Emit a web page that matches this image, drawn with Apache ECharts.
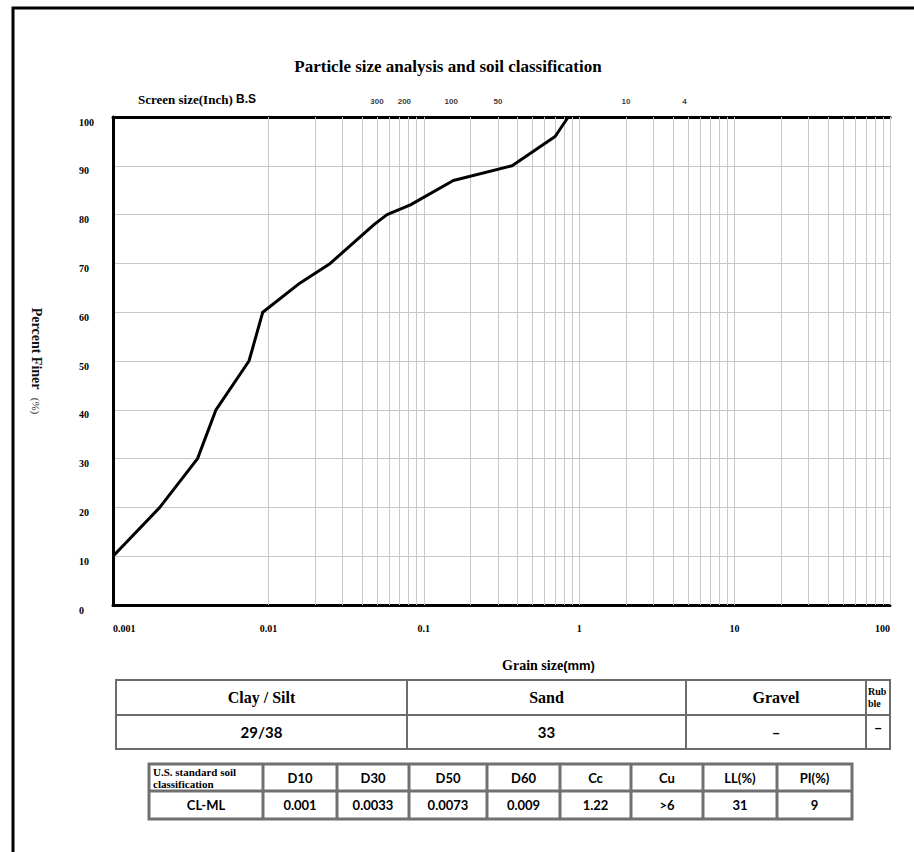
<!DOCTYPE html>
<html>
<head>
<meta charset="utf-8">
<script src="https://cdn.jsdelivr.net/npm/echarts@6.0.0/dist/echarts.min.js"></script>
<style>
html,body{margin:0;padding:0;background:#fff;}
#chart{width:914px;height:852px;}
</style>
</head>
<body>
<div id="chart"></div>
<script>
// ---- data ----
const grainSize = [0.001, 0.002, 0.0035, 0.0046, 0.0075, 0.0092, 0.016, 0.025, 0.048, 0.058, 0.082, 0.155, 0.37, 0.7, 0.85];
const percentFiner = [10, 20, 30, 40, 50, 60, 66, 70, 78, 80, 82, 87, 90, 96, 100];

const xTickValues = [0.001, 0.01, 0.1, 1, 10, 100];
const xTickLabels = ['0.001', '0.01', '0.1', '1', '10', '100'];
const yTickLabels = ['0', '10', '20', '30', '40', '50', '60', '70', '80', '90', '100'];

const sieveSizesMm = [0.05, 0.075, 0.15, 0.3, 2, 4.75];
const sieveLabels = ['300', '200', '100', '50', '10', '4'];

const gridDecades = [0.001, 0.01, 0.1, 1, 10];
const gridMultipliers = [1, 2, 3, 4, 5, 6, 7, 8, 9];

const table1Headers = ['Clay / Silt', 'Sand', 'Gravel', 'Rub\nble'];
const table1Values = ['29/38', '33', '\u2013', '\u2013'];
const table2Headers = ['U.S. standard soil\nclassification', 'D10', 'D30', 'D50', 'D60', 'Cc', 'Cu', 'LL(%)', 'PI(%)'];
const table2Values = ['CL-ML', '0.001', '0.0033', '0.0073', '0.009', '1.22', '>6', '31', '9'];

// ---- layout ----
const SERIF = '"Liberation Serif", "DejaVu Serif", serif';
const SANS = 'Lato, "Liberation Sans", sans-serif';
const t1Cols = [116, 407, 686, 866, 890];
const t1Rows = [680, 715, 749];
const t2Cols = [149, 263, 337, 409, 487, 560, 631, 703, 777, 852];
const t2Rows = [764, 791, 819];

const gridLineValues = [];
gridDecades.forEach(d => gridMultipliers.forEach(m => gridLineValues.push(+(d * m).toPrecision(6))));
gridLineValues.push(100);

const graphics = [];
// outer frame
graphics.push({type: 'rect', shape: {x: 13, y: 8, width: 940, height: 900}, style: {fill: 'none', stroke: '#000', lineWidth: 3}, silent: true});
// title
graphics.push({type: 'text', x: 448, y: 66, style: {text: 'Particle size analysis and soil classification', font: 'bold 17px ' + SERIF, fill: '#000', align: 'center', verticalAlign: 'middle'}});
// screen size label
graphics.push({type: 'text', x: 138, y: 99, style: {text: '{a|Screen size(Inch)}{b| B.S}', align: 'left', verticalAlign: 'middle',
  rich: {a: {font: 'bold 13px ' + SERIF, fill: '#000'}, b: {font: 'bold 12px "Liberation Sans", sans-serif', fill: '#000'}}}});

function drawTable(cols, rows, headers, values, stroke, lw, headFont, valFont, special) {
  graphics.push({type: 'rect', shape: {x: cols[0], y: rows[0], width: cols[cols.length - 1] - cols[0], height: rows[2] - rows[0]}, style: {fill: 'none', stroke: stroke, lineWidth: lw}, silent: true});
  graphics.push({type: 'line', shape: {x1: cols[0], y1: rows[1], x2: cols[cols.length - 1], y2: rows[1]}, style: {stroke: stroke, lineWidth: lw}, silent: true});
  for (let i = 1; i < cols.length - 1; i++) {
    graphics.push({type: 'line', shape: {x1: cols[i], y1: rows[0], x2: cols[i], y2: rows[2]}, style: {stroke: stroke, lineWidth: lw}, silent: true});
  }
  for (let i = 0; i < headers.length; i++) {
    const cx = (cols[i] + cols[i + 1]) / 2;
    const sp = special(i, 'h', cols, rows);
    graphics.push({type: 'text', x: sp ? sp.x : cx, y: sp ? sp.y : (rows[0] + rows[1]) / 2,
      style: {text: headers[i], font: sp && sp.font ? sp.font : headFont, fill: '#000', align: sp ? sp.align : 'center', verticalAlign: 'middle', lineHeight: sp && sp.lh ? sp.lh : undefined}});
    const sv = special(i, 'v', cols, rows);
    graphics.push({type: 'text', x: sv ? sv.x : cx, y: sv ? sv.y : (rows[1] + rows[2]) / 2,
      style: {text: values[i], font: valFont, fill: '#000', align: 'center', verticalAlign: 'middle'}});
  }
}

drawTable(t1Cols, t1Rows, table1Headers, table1Values, '#6b6b6b', 2, 'bold 16px ' + SERIF, 'bold 15px ' + SANS,
  (i, kind, cols, rows) => {
    if (i === 3 && kind === 'h') return {x: cols[3] + 2, y: (rows[0] + rows[1]) / 2, align: 'left', font: 'bold 10px ' + SERIF, lh: 12};
    if (i === 3 && kind === 'v') return {x: (cols[3] + cols[4]) / 2, y: rows[1] + 12};
    return null;
  });
drawTable(t2Cols, t2Rows, table2Headers, table2Values, '#707070', 3, 'bold 13px ' + SANS, 'bold 13px ' + SANS,
  (i, kind, cols, rows) => {
    if (i === 0 && kind === 'h') return {x: cols[0] + 4, y: (rows[0] + rows[1]) / 2, align: 'left', font: 'bold 11px ' + SERIF, lh: 12};
    return null;
  });

const option = {
  animation: false,
  backgroundColor: '#fff',
  grid: {left: 113, top: 117, width: 777, height: 488, outerBoundsMode: 'none'},
  xAxis: [{
    type: 'log', logBase: 10, min: 0.001, max: 100,
    name: '{a|Grain size}{b|(mm)}', nameLocation: 'middle', nameGap: 53,
    nameTextStyle: {padding: [0, 0, 0, 94], rich: {a: {fontFamily: SERIF, fontWeight: 'bold', fontSize: 14, color: '#000'}, b: {fontFamily: '"Liberation Sans", sans-serif', fontWeight: 'bold', fontSize: 13, color: '#000'}}},
    axisLine: {show: true, onZero: false, lineStyle: {color: '#000', width: 3}},
    axisTick: {show: false},
    splitLine: {show: false},
    minorTick: {show: false}, minorSplitLine: {show: false},
    axisLabel: {
      margin: 18, color: '#000', fontFamily: SERIF, fontWeight: 'bold', fontSize: 10,
      alignMinLabel: 'left', alignMaxLabel: 'right', hideOverlap: false,
      formatter: v => {
        const i = xTickValues.findIndex(t => Math.abs(Math.log10(t) - Math.log10(v)) < 1e-6);
        return i >= 0 ? xTickLabels[i] : '';
      }
    }
  }, {
    type: 'log', logBase: 10, min: 0.001, max: 100, position: 'top',
    axisLine: {show: true, onZero: false, lineStyle: {color: '#000', width: 3}},
    axisTick: {show: false}, axisLabel: {show: false}, splitLine: {show: false}
  }],
  yAxis: {
    type: 'value', min: 0, max: 100, interval: 10,
    name: '{a|Percent Finer}{b|   (%)}', nameLocation: 'middle', nameRotate: -90, nameGap: 70,
    nameTextStyle: {rich: {a: {fontFamily: SERIF, fontWeight: 'bold', fontSize: 14, color: '#111'}, b: {fontFamily: SERIF, fontSize: 11, color: '#333'}}},
    axisLine: {show: true, onZero: false, lineStyle: {color: '#000', width: 3}},
    axisTick: {show: false},
    splitLine: {show: true, lineStyle: {color: '#c8c8c8', width: 1}},
    axisLabel: {
      align: 'left', verticalAlign: 'top', margin: 34, color: '#000', fontFamily: SERIF, fontWeight: 'bold', fontSize: 10,
      formatter: (v) => yTickLabels[Math.round(v / 10)]
    }
  },
  series: [{
    name: 'grid', type: 'scatter', xAxisIndex: 0, yAxisIndex: 0, z: 1, silent: true, clip: false,
    symbolSize: 0,
    data: sieveSizesMm.map(s => [s, 100]),
    label: {
      show: true, position: 'top', distance: 12, color: '#000',
      fontFamily: '"Liberation Sans", sans-serif', fontWeight: 'bold', fontSize: 8,
      formatter: p => sieveLabels[p.dataIndex]
    },
    markLine: {
      silent: true, symbol: 'none', animation: false,
      label: {show: false},
      lineStyle: {color: '#c8c8c8', type: 'solid', width: 1},
      emphasis: {disabled: true},
      data: gridLineValues.map(v => ({xAxis: v}))
    }
  }, {
    name: 'Percent finer', type: 'line', xAxisIndex: 0, yAxisIndex: 0, z: 5,
    data: grainSize.map((g, i) => [g, percentFiner[i]]),
    showSymbol: false, symbol: 'none', clip: false,
    lineStyle: {color: '#000', width: 3, join: 'round'}
  }],
  graphic: graphics
};

const chart = echarts.init(document.getElementById('chart'), null, {renderer: 'svg'});
chart.setOption(option);
</script>
</body>
</html>
